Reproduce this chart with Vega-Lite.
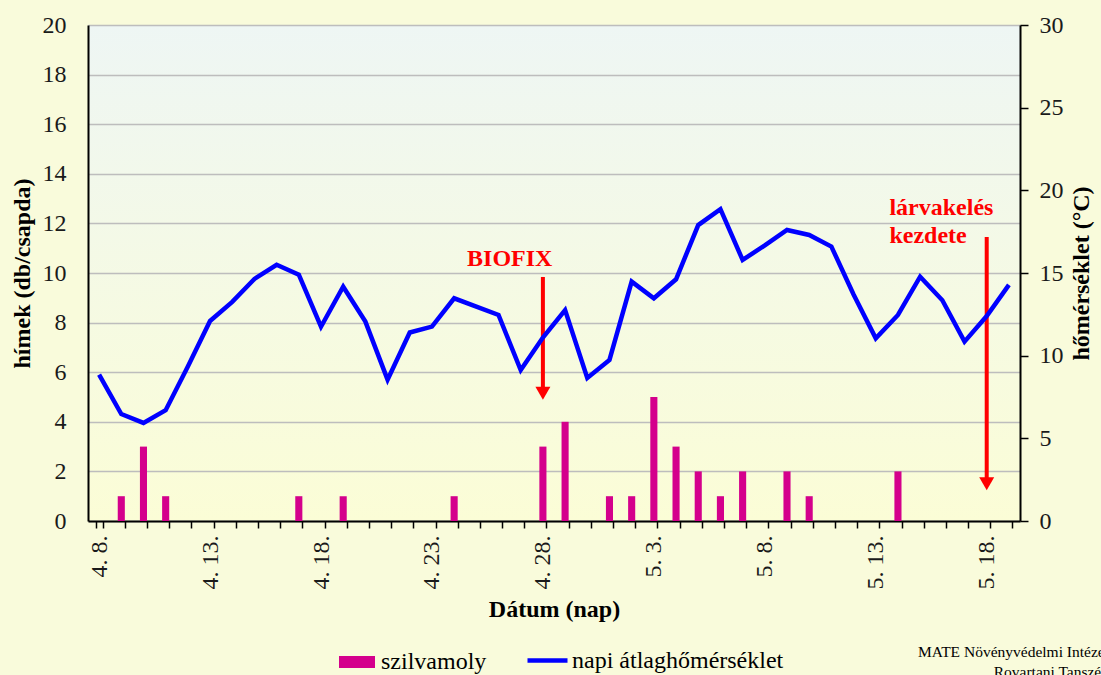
{
  "$schema": "https://vega.github.io/schema/vega-lite/v6.json",
  "width": 932,
  "height": 496,
  "autosize": {"type": "none"},
  "padding": {"left": 88, "top": 25, "right": 81, "bottom": 154},
  "background": "#f9fbdb",
  "datasets": {
    "main": [
      {"day": "4. 8.", "himek": 0, "temp": 8.85},
      {"day": "4. 9.", "himek": 1, "temp": 6.47},
      {"day": "4. 10.", "himek": 3, "temp": 5.93},
      {"day": "4. 11.", "himek": 1, "temp": 6.7},
      {"day": "4. 12.", "himek": 0, "temp": 9.35},
      {"day": "4. 13.", "himek": 0, "temp": 12.1},
      {"day": "4. 14.", "himek": 0, "temp": 13.25},
      {"day": "4. 15.", "himek": 0, "temp": 14.64},
      {"day": "4. 16.", "himek": 0, "temp": 15.5},
      {"day": "4. 17.", "himek": 1, "temp": 14.9},
      {"day": "4. 18.", "himek": 0, "temp": 11.75},
      {"day": "4. 19.", "himek": 1, "temp": 14.17},
      {"day": "4. 20.", "himek": 0, "temp": 12.06},
      {"day": "4. 21.", "himek": 0, "temp": 8.55},
      {"day": "4. 22.", "himek": 0, "temp": 11.4},
      {"day": "4. 23.", "himek": 0, "temp": 11.76},
      {"day": "4. 24.", "himek": 1, "temp": 13.47},
      {"day": "4. 25.", "himek": 0, "temp": 12.96},
      {"day": "4. 26.", "himek": 0, "temp": 12.46},
      {"day": "4. 27.", "himek": 0, "temp": 9.13},
      {"day": "4. 28.", "himek": 3, "temp": 11.1},
      {"day": "4. 29.", "himek": 4, "temp": 12.76},
      {"day": "4. 30.", "himek": 0, "temp": 8.65},
      {"day": "5. 1.", "himek": 1, "temp": 9.74},
      {"day": "5. 2.", "himek": 1, "temp": 14.48},
      {"day": "5. 3.", "himek": 5, "temp": 13.47},
      {"day": "5. 4.", "himek": 3, "temp": 14.62},
      {"day": "5. 5.", "himek": 2, "temp": 17.9},
      {"day": "5. 6.", "himek": 1, "temp": 18.86},
      {"day": "5. 7.", "himek": 2, "temp": 15.79},
      {"day": "5. 8.", "himek": 0, "temp": 16.67},
      {"day": "5. 9.", "himek": 2, "temp": 17.6},
      {"day": "5. 10.", "himek": 1, "temp": 17.3},
      {"day": "5. 11.", "himek": 0, "temp": 16.6},
      {"day": "5. 12.", "himek": 0, "temp": 13.7},
      {"day": "5. 13.", "himek": 0, "temp": 11.05},
      {"day": "5. 14.", "himek": 2, "temp": 12.46},
      {"day": "5. 15.", "himek": 0, "temp": 14.78},
      {"day": "5. 16.", "himek": 0, "temp": 13.35},
      {"day": "5. 17.", "himek": 0, "temp": 10.85},
      {"day": "5. 18.", "himek": 0, "temp": 12.4},
      {"day": "5. 19.", "himek": 0, "temp": 14.28}
    ],
    "arrows": [
      {"day": "4. 28.", "top": 9.84, "bottom": 5.3, "head": 5.15},
      {"day": "5. 18.", "top": 11.45, "bottom": 1.7, "head": 1.5}
    ],
    "biofix": [
      {"day": "4. 27.", "y": 10.3, "label": "BIOFIX"}
    ],
    "larva": [
      {"day": "5. 14.", "y": 12.34, "label": "lárvakelés"},
      {"day": "5. 14.", "y": 11.21, "label": "kezdete"}
    ]
  },
  "config": {
    "font": "Liberation Serif",
    "view": {
      "stroke": null,
      "fill": {
        "gradient": "linear", "x1": 0, "y1": 0, "x2": 0, "y2": 1,
        "stops": [{"offset": 0, "color": "#eef6f4"}, {"offset": 1, "color": "#fbfdd6"}]
      }
    },
    "axis": {
      "labelFont": "Liberation Serif",
      "labelFontSize": 24,
      "labelColor": "#1a1a1a",
      "titleFont": "Liberation Serif",
      "titleFontSize": 24,
      "titleFontWeight": "bold",
      "titleColor": "#000000",
      "domainColor": "#000000",
      "domainWidth": 2,
      "tickColor": "#000000",
      "tickWidth": 1.5
    },
    "legend": {
      "labelFont": "Liberation Serif",
      "labelFontSize": 24,
      "labelColor": "#000000",
      "labelLimit": 500,
      "padding": 0,
      "orient": "none"
    }
  },
  "title": {
    "text": ["MATE Növényvédelmi Intézet", "Rovartani Tanszék"],
    "orient": "bottom",
    "anchor": "end",
    "align": "right",
    "font": "Liberation Serif",
    "fontSize": 15.5,
    "fontWeight": "normal",
    "color": "#000000",
    "lineHeight": 20,
    "dx": 16,
    "dy": -51,
    "offset": 22
  },
  "encoding": {
    "x": {
      "field": "day",
      "type": "ordinal",
      "scale": {
        "domain": ["4. 8.","4. 9.","4. 10.","4. 11.","4. 12.","4. 13.","4. 14.","4. 15.","4. 16.","4. 17.","4. 18.","4. 19.","4. 20.","4. 21.","4. 22.","4. 23.","4. 24.","4. 25.","4. 26.","4. 27.","4. 28.","4. 29.","4. 30.","5. 1.","5. 2.","5. 3.","5. 4.","5. 5.","5. 6.","5. 7.","5. 8.","5. 9.","5. 10.","5. 11.","5. 12.","5. 13.","5. 14.","5. 15.","5. 16.","5. 17.","5. 18.","5. 19."],
        "paddingInner": 0.68,
        "paddingOuter": 0.34
      },
      "axis": {
        "title": "Dátum (nap)",
        "titlePadding": 8,
        "labelAngle": 270,
        "labelPadding": 7,
        "tickSize": 7,
        "tickBand": "extent",
        "grid": false,
        "labelOverlap": false,
        "labelExpr": "indexof(['4. 8.','4. 13.','4. 18.','4. 23.','4. 28.','5. 3.','5. 8.','5. 13.','5. 18.'], datum.value) >= 0 ? datum.value : ''"
      }
    }
  },
  "layer": [
    {
      "layer": [
        {
          "data": {"name": "main"},
          "mark": {"type": "bar"},
          "encoding": {
            "y": {
              "field": "himek",
              "type": "quantitative",
              "scale": {"domain": [0, 20], "nice": false},
              "axis": {
                "title": "hímek (db/csapda)",
                "values": [0, 2, 4, 6, 8, 10, 12, 14, 16, 18, 20],
                "tickSize": 0,
                "labelPadding": 22,
                "titlePadding": 8,
                "grid": true,
                "gridColor": "#bdbdbd",
                "gridWidth": 1.5
              }
            },
            "fill": {
              "datum": "szilvamoly",
              "scale": {"range": ["#d4008c"]},
              "legend": {
                "title": null,
                "orient": "none",
                "legendX": 251,
                "legendY": 619,
                "symbolType": "M-1,-0.33L1,-0.33L1,0.33L-1,0.33Z",
                "symbolSize": 1296,
                "symbolStrokeWidth": 0,
                "labelOffset": 6
              }
            }
          }
        },
        {
          "data": {"name": "arrows"},
          "mark": {"type": "rule", "color": "#ff0000", "strokeWidth": 4},
          "encoding": {
            "y": {"field": "top", "type": "quantitative", "axis": {"title": "hímek (db/csapda)"}},
            "y2": {"field": "bottom"}
          }
        },
        {
          "data": {"name": "arrows"},
          "mark": {"type": "point", "shape": "triangle-down", "filled": true, "color": "#ff0000", "opacity": 1, "size": 225},
          "encoding": {
            "y": {"field": "head", "type": "quantitative", "axis": {"title": "hímek (db/csapda)"}}
          }
        },
        {
          "data": {"name": "biofix"},
          "mark": {"type": "text", "color": "#ff0000", "fontWeight": "bold", "fontSize": 24, "font": "Liberation Serif", "align": "center", "baseline": "alphabetic", "dx": -11},
          "encoding": {
            "y": {"field": "y", "type": "quantitative", "axis": {"title": "hímek (db/csapda)"}},
            "text": {"field": "label"}
          }
        },
        {
          "data": {"name": "larva"},
          "mark": {"type": "text", "color": "#ff0000", "fontWeight": "bold", "fontSize": 24, "font": "Liberation Serif", "align": "left", "baseline": "alphabetic", "dx": -5},
          "encoding": {
            "x": {"field": "day", "type": "ordinal", "bandPosition": 0},
            "y": {"field": "y", "type": "quantitative", "axis": {"title": "hímek (db/csapda)"}},
            "text": {"field": "label"}
          }
        }
      ]
    },
    {
      "data": {"name": "main"},
      "mark": {"type": "line", "strokeWidth": 4.5, "strokeJoin": "miter"},
      "encoding": {
        "y": {
          "field": "temp",
          "type": "quantitative",
          "scale": {"domain": [0, 30], "nice": false},
          "axis": {
            "orient": "right",
            "title": "hőmérséklet (°C)",
            "values": [0, 5, 10, 15, 20, 25, 30],
            "tickSize": 8,
            "labelPadding": 11,
            "titleAngle": 270,
            "titleBaseline": "top",
            "titlePadding": 6,
            "grid": false
          }
        },
        "stroke": {
          "datum": "napi átlaghőmérséklet",
          "scale": {"range": ["#0000ff"]},
          "legend": {
            "title": null,
            "orient": "none",
            "legendX": 437,
            "legendY": 613,
            "symbolType": "stroke",
            "symbolSize": 1600,
            "symbolStrokeWidth": 4.5,
            "labelOffset": 2
          }
        }
      }
    }
  ],
  "resolve": {"scale": {"y": "independent"}}
}
